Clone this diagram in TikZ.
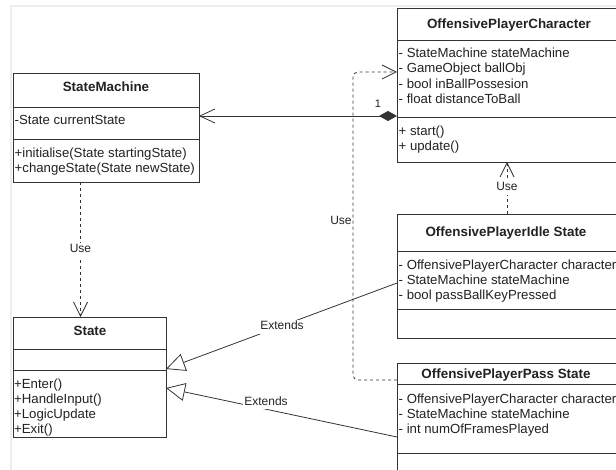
\documentclass[tikz,border=0pt]{standalone}
\usepackage{fontspec}
\setmainfont{Liberation Sans}
\usetikzlibrary{arrows.meta}
\definecolor{ln}{HTML}{333333}
\definecolor{tx}{HTML}{222222}
\definecolor{frame}{HTML}{EEEEEE}
\begin{document}
\begin{tikzpicture}[x=1pt,y=-1pt,
  sect/.style={draw=ln, line width=1.1pt, anchor=north west, inner sep=0pt, minimum width=#1},
  txt/.style={anchor=west, inner sep=0pt, text=tx, font=\fontsize{13.2}{15}\selectfont, text height=9.5pt, text depth=3pt},
  hdr/.style={inner sep=0pt, text=tx, font=\fontsize{13.4}{15}\selectfont\bfseries, text height=9.5pt, text depth=3pt},
  lbl/.style={inner sep=1pt, text=tx, font=\fontsize{12}{14}\selectfont, text height=9pt, text depth=3pt},
  conn/.style={draw=ln, line width=0.8pt},
  usedash/.style={conn, dash pattern=on 3pt off 3pt},
  openarrow/.style={-{Straight Barb[length=14pt,width=14pt,line width=0.8pt]}},
  extarrow/.style={-{Triangle[open,length=19pt,width=18pt,line width=0.8pt,fill=white]}},
]
\useasboundingbox (0,0) rectangle (616,470);
\clip (0,0) rectangle (616,470);
\fill[white] (0,0) rectangle (616,470);
% page frame
\draw[frame, line width=2pt] (11,471) -- (11,6) -- (617,6);

% ---------- OffensivePlayerCharacter
\node[sect=235pt, minimum height=32pt] (opcH) at (397,8) {};
\node[sect=235pt, minimum height=77pt] (opcA) at (397,40) {};
\node[sect=235pt, minimum height=45pt] (opcM) at (397,117) {};
\node[hdr] (opcT) at (509,25) {OffensivePlayerCharacter};
\foreach \t [count=\i] in {- StateMachine stateMachine, - GameObject ballObj, - bool inBallPossesion, - float distanceToBall}
  \node[txt] (opcA\i) at (398.5,{54+15.5*(\i-1)}) {\t};
\foreach \t [count=\i] in {+ start(), + update()}
  \node[txt] (opcM\i) at (398.5,{132+15*(\i-1)}) {\t};

% ---------- StateMachine
\node[sect=186pt, minimum height=34pt] (smH) at (13,73) {};
\node[sect=186pt, minimum height=32pt] (smA) at (13,107) {};
\node[sect=186pt, minimum height=43pt] (smM) at (13,139) {};
\node[hdr] (smT) at (106,88) {StateMachine};
\node[txt] (smA1) at (14.5,121) {-State currentState};
\foreach \t [count=\i] in {+initialise(State startingState), +changeState(State newState)}
  \node[txt] (smM\i) at (14.5,{154+15*(\i-1)}) {\t};

% ---------- State
\node[sect=153pt, minimum height=32pt] (stH) at (13,317) {};
\node[sect=153pt, minimum height=21pt] (stA) at (13,349) {};
\node[sect=153pt, minimum height=67pt] (stM) at (13,370) {};
\node[hdr] (stT) at (90,332) {State};
\foreach \t [count=\i] in {+Enter(), +HandleInput(), +LogicUpdate, +Exit()}
  \node[txt] (stM\i) at (14,{385+15*(\i-1)}) {\t};

% ---------- OffensivePlayerIdleState
\node[sect=235pt, minimum height=37pt] (idH) at (397,214) {};
\node[sect=235pt, minimum height=58pt] (idA) at (397,251) {};
\node[sect=235pt, minimum height=29pt] (idM) at (397,309) {};
\node[hdr] (idT) at (506,233) {OffensivePlayerIdle State};
\foreach \t [count=\i] in {- OffensivePlayerCharacter character, - StateMachine stateMachine, - bool passBallKeyPressed}
  \node[txt] (idA\i) at (398.5,{266+15*(\i-1)}) {\t};

% ---------- OffensivePlayerPassState
\node[sect=235pt, minimum height=21pt] (paH) at (397,363) {};
\node[sect=235pt, minimum height=69pt] (paA) at (397,384) {};
\node[sect=235pt, minimum height=30pt] (paM) at (397,453) {};
\node[hdr] (paT) at (506,375) {OffensivePlayerPass State};
\foreach \t [count=\i] in {- OffensivePlayerCharacter character, - StateMachine stateMachine, - int numOfFramesPlayed}
  \node[txt] (paA\i) at (398.5,{400+15*(\i-1)}) {\t};

% ---------- connector end points
\coordinate (compS) at (397,116);
\coordinate (compE) at (199,116);
\coordinate (useP) at (397,380);
\coordinate (useO) at (397,72);
\coordinate (useIs) at (507,214);
\coordinate (useIe) at (507,162);
\coordinate (useSs) at (80.5,182);
\coordinate (useSe) at (80.5,317);
\coordinate (ext1s) at (397,283);
\coordinate (ext1e) at (166,369);
\coordinate (ext2s) at (397,437);
\coordinate (ext2e) at (166,388);

% composition
\draw[conn, {Diamond[length=18pt,width=10pt,fill=ln]}-{Straight Barb[length=15pt,width=14pt,line width=0.8pt]}] (compS) -- (compE);
\node[lbl, font=\fontsize{11}{13}\selectfont] (one) at (378,105) {1};

% use: pass state -> character
\draw[usedash, openarrow, rounded corners=5pt] (useP) -- ++(-44,0) |- (useO);
\node[lbl] (useL1) at (341,222) {Use};

% use: idle state -> character
\draw[usedash, openarrow] (useIs) -- (useIe);
\node[lbl, fill=white] (useL2) at (507,188) {Use};

% use: state machine -> state
\draw[usedash, openarrow] (useSs) -- (useSe);
\node[lbl, fill=white] (useL3) at (80.5,250) {Use};

% extends
\draw[conn, extarrow] (ext1s) -- (ext1e);
\node[lbl, fill=white] (extL1) at (282,327) {Extends};
\draw[conn, extarrow] (ext2s) -- (ext2e);
\node[lbl, fill=white] (extL2) at (266,402) {Extends};
\end{tikzpicture}
\end{document}
